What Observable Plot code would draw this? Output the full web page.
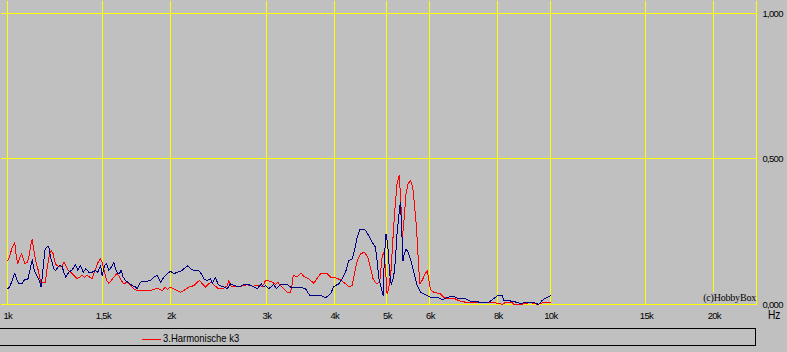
<!DOCTYPE html>
<html><head><meta charset="utf-8">
<script src="https://cdn.jsdelivr.net/npm/d3@7"></script>
<script src="https://cdn.jsdelivr.net/npm/@observablehq/plot@0.6"></script>
<style>
html,body{margin:0;padding:0;background:#c0c0c0;}
#wrap{position:relative;width:787px;height:352px;overflow:hidden;font-family:"Liberation Sans",Arial,sans-serif;color:#000;}
#wrap svg{position:absolute;left:0;top:0;}
#hz{position:absolute;left:768px;top:309px;font-size:12px;line-height:12px;transform:scaleX(0.85);transform-origin:0 0;}
#copy{position:absolute;right:31px;top:292px;height:12px;line-height:12px;background:#c0c0c0;font-family:"Liberation Serif","DejaVu Serif",serif;font-size:10px;letter-spacing:-0.2px;white-space:nowrap;}
#legend{position:absolute;left:0;top:328px;width:756px;height:18px;box-sizing:border-box;border:1px solid #000;border-left:none;}
.sw{position:absolute;left:142px;top:10px;width:19px;height:1px;}
.lt{position:absolute;left:163px;top:4px;font-size:11px;line-height:11px;white-space:nowrap;transform:scaleX(0.86);transform-origin:0 0;}
</style></head>
<body><div id="wrap"></div>
<script>
// Frequency (Hz) and amplitude readings
const redFreq = [1000,1009,1019,1030,1036,1043,1051,1060,1067,1075,1086,1095,1104,1109,1117,1128,1138,1149,1160,1173,1182,1192,1202,1212,1219,1229,1241,1259,1268,1279,1292,1305,1323,1342,1355,1371,1384,1400,1416,1430,1440,1452,1467,1482,1494,1507,1520,1535,1552,1568,1586,1601,1617,1635,1659,1683,1706,1726,1755,1832,1871,1897,1925,1952,1966,1994,2017,2051,2080,2109,2154,2201,2233,2257,2280,2312,2345,2369,2395,2436,2482,2517,2535,2553,2571,2607,2682,2760,2819,2879,2941,2961,2982,3004,3068,3112,3142,3178,3223,3270,3316,3340,3354,3412,3470,3508,3584,3660,3723,3777,3875,3929,4013,4099,4187,4246,4307,4349,4400,4462,4537,4601,4654,4707,4773,4840,4889,4922,4958,4994,5027,5078,5135,5172,5209,5260,5298,5327,5372,5411,5457,5515,5568,5608,5656,5697,5736,5795,5851,5919,5959,6002,6087,6262,6350,6442,6626,6722,6817,7014,7743,8020,8137,8252,8492,8550,8795,9175,9439,9707,9848,10000];
const redVal = [0.151,0.169,0.197,0.214,0.169,0.141,0.158,0.175,0.158,0.141,0.144,0.169,0.210,0.224,0.186,0.141,0.117,0.077,0.077,0.077,0.128,0.169,0.186,0.175,0.151,0.134,0.131,0.131,0.146,0.134,0.117,0.111,0.100,0.089,0.094,0.100,0.094,0.100,0.094,0.089,0.106,0.123,0.146,0.157,0.141,0.111,0.083,0.073,0.083,0.094,0.106,0.100,0.083,0.071,0.077,0.065,0.054,0.048,0.048,0.048,0.054,0.054,0.048,0.060,0.051,0.060,0.054,0.048,0.042,0.048,0.060,0.065,0.077,0.083,0.071,0.060,0.071,0.077,0.068,0.056,0.054,0.060,0.065,0.083,0.065,0.060,0.062,0.068,0.063,0.065,0.063,0.069,0.083,0.083,0.077,0.069,0.077,0.065,0.054,0.042,0.042,0.071,0.100,0.096,0.108,0.096,0.088,0.073,0.094,0.108,0.106,0.094,0.092,0.085,0.071,0.062,0.065,0.106,0.151,0.174,0.180,0.163,0.128,0.088,0.071,0.077,0.163,0.180,0.128,0.037,0.054,0.117,0.266,0.346,0.415,0.444,0.335,0.226,0.300,0.381,0.415,0.427,0.404,0.346,0.266,0.163,0.071,0.083,0.100,0.117,0.088,0.051,0.042,0.037,0.025,0.020,0.022,0.016,0.011,0.007,0.007,0.004,0.000,0.007,0.007,0.000,0.000,0.007,0.000,0.007,0.008,0.008];
const blueFreq = [1000,1009,1019,1030,1038,1048,1063,1073,1089,1098,1109,1117,1129,1140,1152,1162,1170,1178,1190,1198,1207,1215,1224,1236,1247,1259,1268,1279,1295,1314,1333,1346,1361,1377,1392,1410,1430,1451,1465,1482,1492,1507,1520,1535,1550,1568,1579,1594,1606,1617,1631,1647,1663,1695,1719,1731,1755,1793,1832,1857,1884,1911,1938,1966,1994,2022,2051,2095,2140,2170,2201,2248,2271,2296,2329,2362,2379,2413,2436,2457,2499,2535,2571,2615,2663,2720,2779,2819,2879,2929,2961,2982,3024,3089,3125,3178,3270,3316,3363,3460,3534,3599,3660,3766,3847,3929,3984,4069,4128,4187,4246,4307,4355,4400,4448,4493,4557,4620,4687,4753,4787,4819,4869,4910,4937,4972,5006,5048,5085,5135,5172,5209,5245,5283,5312,5343,5372,5411,5457,5515,5591,5673,5754,5834,5919,6002,6087,6217,6307,6442,6626,6768,6913,7113,7422,7688,7852,7986,8137,8192,8312,8550,8795,9047,9304,9503,9641,9777,10000];
const blueVal = [0.054,0.062,0.083,0.108,0.088,0.073,0.073,0.085,0.088,0.117,0.154,0.123,0.100,0.088,0.060,0.128,0.186,0.197,0.200,0.163,0.146,0.123,0.117,0.128,0.134,0.131,0.111,0.094,0.111,0.119,0.137,0.117,0.134,0.111,0.123,0.111,0.111,0.117,0.111,0.134,0.100,0.134,0.140,0.117,0.128,0.146,0.123,0.106,0.106,0.119,0.094,0.083,0.077,0.065,0.060,0.054,0.077,0.079,0.083,0.094,0.100,0.077,0.094,0.106,0.114,0.106,0.111,0.117,0.134,0.123,0.117,0.117,0.106,0.088,0.083,0.088,0.071,0.094,0.071,0.065,0.060,0.054,0.071,0.065,0.060,0.069,0.068,0.063,0.054,0.071,0.060,0.065,0.054,0.069,0.054,0.069,0.069,0.060,0.057,0.060,0.054,0.031,0.031,0.031,0.023,0.037,0.062,0.071,0.088,0.111,0.151,0.157,0.192,0.232,0.257,0.260,0.255,0.237,0.214,0.197,0.151,0.094,0.060,0.031,0.163,0.243,0.209,0.106,0.069,0.094,0.151,0.243,0.300,0.352,0.266,0.151,0.174,0.192,0.180,0.157,0.111,0.065,0.042,0.037,0.031,0.025,0.025,0.023,0.016,0.025,0.028,0.020,0.022,0.011,0.008,0.008,0.020,0.031,0.031,0.014,0.014,0.010,0.004,0.007,0.007,0.000,0.014,0.022,0.031];

const legendNames = ["3.Harmonische k3"];
const xTicks = [1000,1500,2000,3000,4000,5000,6000,8000,10000,15000,20000];
const xTickLabels = ["1k","1,5k","2k","3k","4k","5k","6k","8k","10k","15k","20k"];
const yTicks = [0, 0.5, 1];
const yTickLabels = ["0,000","0,500","1,000"];
const xUnit = "Hz";
const copyright = "(c)HobbyBox";

const xDomain = [969.5, 23920];
const yDomain = [0, 1.0458];

const red = redFreq.map((f, i) => ({f, v: redVal[i]}));
const blue = blueFreq.map((f, i) => ({f, v: blueVal[i]}));
const xMap = new Map(xTicks.map((t, i) => [t, xTickLabels[i]]));
const yMap = new Map(yTicks.map((t, i) => [t, yTickLabels[i]]));

const grid = {stroke: "#ffff00", strokeOpacity: 1, strokeWidth: 1, shapeRendering: "crispEdges"};

const chart = Plot.plot({
  width: 787, height: 325,
  marginLeft: 0, marginRight: 31, marginTop: 0, marginBottom: 21,
  style: {background: "transparent", color: "#000", fontSize: "9.5px", letterSpacing: "-0.7px",
    fontFamily: '"Liberation Sans",Arial,sans-serif'},
  x: {type: "log", domain: xDomain},
  y: {domain: yDomain},
  marks: [
    Plot.ruleX(xTicks, grid),
    Plot.ruleX([xDomain[1]], grid),
    Plot.ruleY(yTicks, grid),
    Plot.line(red, {x: "f", y: "v", stroke: "#ff0000", strokeWidth: 1, shapeRendering: "crispEdges"}),
    Plot.line(blue, {x: "f", y: "v", stroke: "#000080", strokeWidth: 1, shapeRendering: "crispEdges"}),
    Plot.axisX({ticks: xTicks, tickFormat: d => xMap.get(d), tickSize: 0, tickPadding: 8, label: null}),
    Plot.axisY({anchor: "right", ticks: yTicks, tickFormat: d => yMap.get(d), tickSize: 0, tickPadding: 6, label: null})
  ]
});

// snap grid rules to the whole pixel containing their scaled position
chart.querySelectorAll('g[aria-label="rule"]').forEach(g => {
  let ox = 0, oy = 0;
  const tr = g.getAttribute("transform");
  if (tr) {
    const m = tr.match(/translate\(\s*([-\d.e]+)(?:[\s,]+([-\d.e]+))?/);
    if (m) { ox = +m[1]; oy = m[2] !== undefined ? +m[2] : 0; }
  }
  g.querySelectorAll("line").forEach(l => {
    for (const [a, o] of [["x1", ox], ["x2", ox], ["y1", oy], ["y2", oy]]) {
      const v = l.getAttribute(a);
      if (v !== null) l.setAttribute(a, Math.floor(+v + 1e-6) + 0.5 - o);
    }
  });
});

const wrap = document.getElementById("wrap");
wrap.appendChild(chart);

const hz = document.createElement("div");
hz.id = "hz"; hz.textContent = xUnit; wrap.appendChild(hz);

const cp = document.createElement("div");
cp.id = "copy"; cp.textContent = copyright; wrap.appendChild(cp);

const lg = document.createElement("div");
lg.id = "legend";
legendNames.forEach(name => {
  const sw = document.createElement("div");
  sw.className = "sw"; sw.style.background = "#ff0000";
  const t = document.createElement("div");
  t.className = "lt"; t.textContent = name;
  lg.appendChild(sw); lg.appendChild(t);
});
wrap.appendChild(lg);
</script>
</body></html>
